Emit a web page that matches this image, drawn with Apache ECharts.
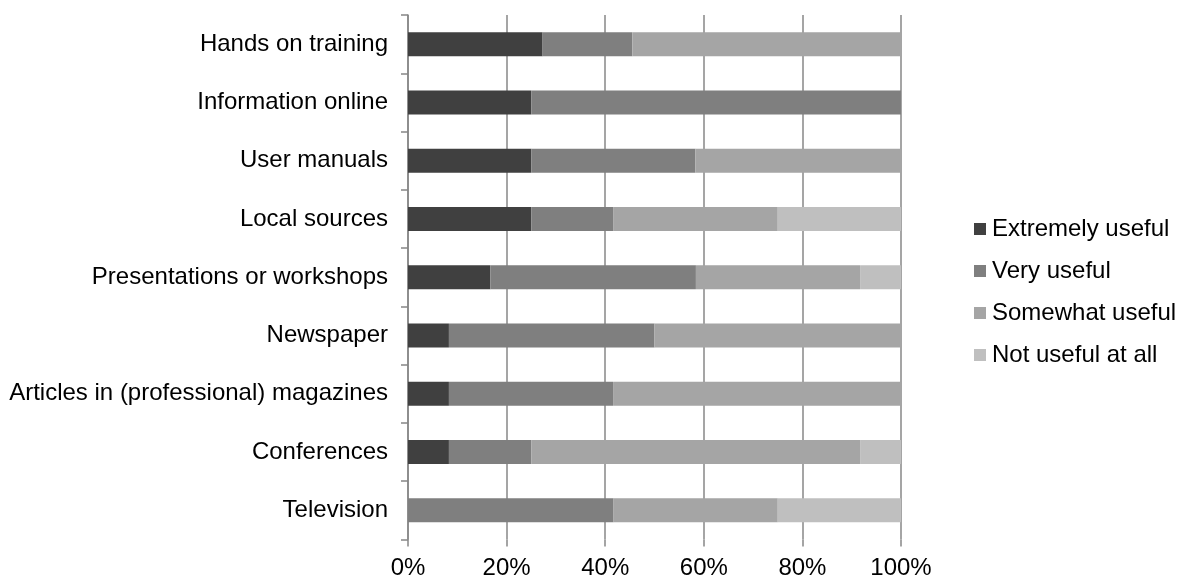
<!DOCTYPE html>
<html>
<head>
<meta charset="utf-8">
<style>
  html, body { margin: 0; padding: 0; background: #fff; }
  #chart { width: 1178px; height: 579px; }
</style>
<script src="https://cdn.jsdelivr.net/npm/echarts@6/dist/echarts.min.js"></script>
</head>
<body>
<div id="chart"></div>
<script>
// Information sources, share of respondents per usefulness rating (%)
const categories = [
  'Hands on training',
  'Information online',
  'User manuals',
  'Local sources',
  'Presentations or workshops',
  'Newspaper',
  'Articles in (professional) magazines',
  'Conferences',
  'Television'
];
const seriesNames = ['Extremely useful', 'Very useful', 'Somewhat useful', 'Not useful at all'];
const extremelyUseful = [27.3, 25.0, 25.0, 25.0, 16.7, 8.3, 8.3, 8.3, 0];
const veryUseful      = [18.2, 75.0, 33.3, 16.7, 41.7, 41.7, 33.3, 16.7, 41.7];
const somewhatUseful  = [54.5, 0, 41.7, 33.3, 33.3, 50.0, 58.4, 66.7, 33.3];
const notUseful       = [0, 0, 0, 25.0, 8.3, 0, 0, 8.3, 25.0];
const xTicks = [0, 20, 40, 60, 80, 100];

const colors = ['#404040', '#7f7f7f', '#a5a5a5', '#bfbfbf'];
const values = [extremelyUseful, veryUseful, somewhatUseful, notUseful];
const font = '"Liberation Sans", Arial, sans-serif';
const axisGray = '#878787';
const fontSize = 24;

const chart = echarts.init(document.getElementById('chart'), null, { renderer: 'canvas' });
chart.setOption({
  animation: false,
  backgroundColor: '#fff',
  textStyle: { fontFamily: font },
  grid: {
    left: 408, right: 277, top: 15, bottom: 39.5,
    containLabel: false,
    outerBoundsMode: 'none'
  },
  legend: {
    orient: 'vertical',
    left: 974,
    top: 217,
    padding: 0,
    itemWidth: 12,
    itemHeight: 12,
    itemGap: 18,
    icon: 'rect',
    data: seriesNames,
    textStyle: { fontFamily: font, fontSize: fontSize, color: '#000', padding: [0, 0, 0, 1] }
  },
  xAxis: {
    type: 'value',
    min: xTicks[0],
    max: xTicks[xTicks.length - 1],
    interval: xTicks[1] - xTicks[0],
    axisLine: { show: false },
    axisTick: { show: true, length: 7, lineStyle: { color: axisGray, width: 1.5 } },
    splitLine: { show: true, lineStyle: { color: axisGray, width: 1.5 } },
    axisLabel: {
      margin: 17,
      fontFamily: font,
      fontSize: fontSize,
      color: '#000',
      formatter: v => v + '%'
    }
  },
  yAxis: {
    type: 'category',
    data: categories,
    inverse: true,
    axisLine: { show: true, lineStyle: { color: axisGray, width: 1.5 } },
    axisTick: { show: true, length: 7, lineStyle: { color: axisGray, width: 1.5 } },
    axisLabel: { margin: 20, fontFamily: font, fontSize: fontSize, color: '#000' }
  },
  series: seriesNames.map((name, i) => ({
    name,
    type: 'bar',
    stack: 'total',
    barWidth: 24,
    itemStyle: { color: colors[i] },
    data: values[i]
  }))
});
</script>
</body>
</html>
